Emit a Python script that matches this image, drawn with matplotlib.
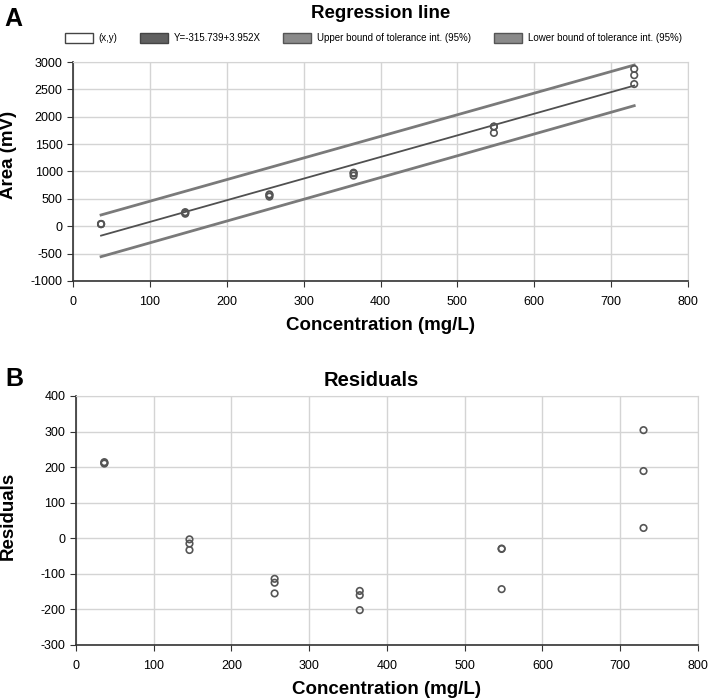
import matplotlib.pyplot as plt
import numpy as np
from matplotlib.patches import Patch

# data
conc = [36.5, 146, 255.5, 365, 547.5, 730]
area = [[38, 40, 42], [257, 246, 229], [582, 571, 541], [978, 966, 924], [1820, 1820, 1705], [2874, 2759, 2597]]
resid = [[210, 212, 214], [-3, -15, -33], [-114, -125, -155], [-148, -160, -202], [-29, -30, -143], [304, 189, 29]]
intercept, slope = -315.739, 3.952
upper_bound = [206, 2945]
lower_bound = [-556, 2202]
legend_labels = ['(x,y)', 'Y=-315.739+3.952X', 'Upper bound of tolerance int. (95%)',
                 'Lower bound of tolerance int. (95%)']

plt.rcParams['font.family'] = ['Liberation Sans', 'DejaVu Sans']
plt.rcParams['axes.unicode_minus'] = False
fig = plt.figure(figsize=(7.08, 7.00), dpi=100)

grid_col = '#d4d4d4'
line_col = '#7a7a7a'
pt_col = '#555555'


def style_axes(ax, ylim, yticks):
    ax.set_xlim(0, 800)
    ax.set_ylim(*ylim)
    ax.set_xticks(np.arange(0, 801, 100))
    ax.set_yticks(yticks)
    ax.grid(True, color=grid_col, linewidth=1)
    ax.set_axisbelow(True)
    for s in ['top', 'right']:
        ax.spines[s].set_color(grid_col)
    for s in ['left', 'bottom']:
        ax.spines[s].set_color('#333333')
        ax.spines[s].set_linewidth(1.2)
    ax.tick_params(labelsize=9, length=4.5, color='#333333', pad=3)
    ax.tick_params(axis='x', pad=6)
    ax.set_xlabel('Concentration (mg/L)', fontsize=13.5, fontweight='bold', labelpad=7)


# ---- panel A
ax1 = fig.add_axes([0.1031, 0.5986, 0.8687, 0.3128])
style_axes(ax1, (-1000, 3000), np.arange(-1000, 3001, 500))
xs = np.array([conc[0], conc[-1]])
ax1.plot(xs, upper_bound, color=line_col, lw=2)
ax1.plot(xs, lower_bound, color=line_col, lw=2)
ax1.plot(xs, intercept + slope * xs, color='#505050', lw=1.3)
for c, ys in zip(conc, area):
    ax1.scatter([c] * len(ys), ys, s=22, facecolors='none', edgecolors=pt_col, linewidths=1.2, zorder=3)
ax1.set_ylabel('Area (mV)', fontsize=13.5, fontweight='bold')
ax1.yaxis.set_label_coords(-0.091, 0.575)

handles = [Patch(facecolor='white', edgecolor='#444444'),
           Patch(facecolor='#606060', edgecolor='#444444'),
           Patch(facecolor='#8a8a8a', edgecolor='#555555'),
           Patch(facecolor='#8a8a8a', edgecolor='#555555')]
fig.legend(handles, legend_labels, loc='center', bbox_to_anchor=(0.527, 0.946), ncol=4, frameon=False,
           fontsize=7, handlelength=2.9, handleheight=1.2, columnspacing=2.3, handletextpad=0.6)
fig.text(0.538, 0.981, 'Regression line', ha='center', va='center', fontsize=13.5, fontweight='bold')
fig.text(0.006, 0.973, 'A', ha='left', va='center', fontsize=18, fontweight='bold')

# ---- panel B
ax2 = fig.add_axes([0.1073, 0.0786, 0.8785, 0.3557])
style_axes(ax2, (-300, 400), np.arange(-300, 401, 100))
for c, ys in zip(conc, resid):
    ax2.scatter([c] * len(ys), ys, s=22, facecolors='none', edgecolors=pt_col, linewidths=1.2, zorder=3)
ax2.set_ylabel('Residuals', fontsize=13.5, fontweight='bold')
ax2.yaxis.set_label_coords(-0.095, 0.518)
fig.text(0.525, 0.457, 'Residuals', ha='center', va='center', fontsize=14.5, fontweight='bold')
fig.text(0.008, 0.458, 'B', ha='left', va='center', fontsize=18, fontweight='bold')

fig.savefig('out.png', dpi=100)
